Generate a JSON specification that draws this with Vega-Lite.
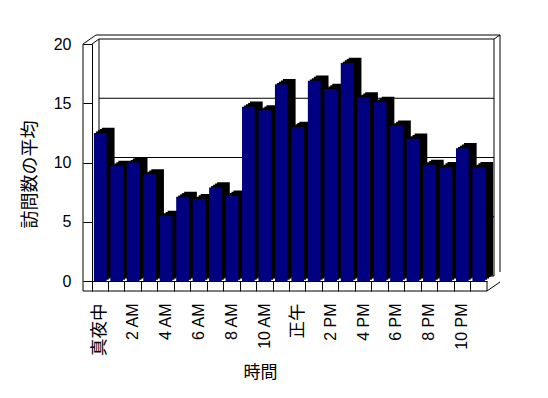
{
  "$schema": "https://vega.github.io/schema/vega-lite/v6.json",
  "width": 395,
  "height": 237,
  "autosize": {"type": "none"},
  "padding": {"left": 92, "top": 44, "right": 61, "bottom": 117},
  "background": "white",
  "config": {"view": {"stroke": null}, "font": "Liberation Sans, Noto Sans CJK JP", "rule": {"color": "black", "strokeWidth": 1}},
  "data": {"values": [
    {"hour": "真夜中", "visits": 12.5},
    {"hour": "1 AM", "visits": 9.7},
    {"hour": "2 AM", "visits": 10.0},
    {"hour": "3 AM", "visits": 9.0},
    {"hour": "4 AM", "visits": 5.5},
    {"hour": "5 AM", "visits": 7.1},
    {"hour": "6 AM", "visits": 6.9},
    {"hour": "7 AM", "visits": 7.9},
    {"hour": "8 AM", "visits": 7.2},
    {"hour": "9 AM", "visits": 14.7},
    {"hour": "10 AM", "visits": 14.4},
    {"hour": "11 AM", "visits": 16.6},
    {"hour": "正午", "visits": 13.0},
    {"hour": "1 PM", "visits": 16.9},
    {"hour": "2 PM", "visits": 16.2},
    {"hour": "3 PM", "visits": 18.4},
    {"hour": "4 PM", "visits": 15.5},
    {"hour": "5 PM", "visits": 15.1},
    {"hour": "6 PM", "visits": 13.1},
    {"hour": "7 PM", "visits": 12.0},
    {"hour": "8 PM", "visits": 9.8},
    {"hour": "9 PM", "visits": 9.6},
    {"hour": "10 PM", "visits": 11.2},
    {"hour": "11 PM", "visits": 9.6}
  ]},
  "resolve": {"axis": {"x": "independent", "y": "independent"}},
  "layer": [
    {
      "data": {"values": [{}]},
      "mark": {"type": "rect", "fill": "white", "stroke": "black", "strokeWidth": 1, "xOffset": 7, "x2Offset": 7, "yOffset": -5, "y2Offset": -5},
      "encoding": {
        "x": {"datum": "真夜中", "bandPosition": 0, "type": "nominal", "axis": null,
              "scale": {"domain": ["真夜中","1 AM","2 AM","3 AM","4 AM","5 AM","6 AM","7 AM","8 AM","9 AM","10 AM","11 AM","正午","1 PM","2 PM","3 PM","4 PM","5 PM","6 PM","7 PM","8 PM","9 PM","10 PM","11 PM"], "paddingInner": 0, "paddingOuter": 0}},
        "x2": {"datum": "11 PM", "bandPosition": 1},
        "y": {"datum": 20, "type": "quantitative", "axis": null, "scale": {"domain": [0, 20], "nice": false}},
        "y2": {"datum": 0}
      }
    },
    {
      "data": {"values": [{}]},
      "mark": {"type": "rule", "xOffset": 4, "x2Offset": 13, "yOffset": -9},
      "encoding": {
        "x": {"datum": "真夜中", "bandPosition": 0, "type": "nominal", "axis": null},
        "x2": {"datum": "11 PM", "bandPosition": 1},
        "y": {"datum": 20, "type": "quantitative", "axis": null}
      }
    },
    {
      "data": {"values": [{}]},
      "mark": {"type": "rule", "xOffset": 13, "yOffset": -9, "y2Offset": -9},
      "encoding": {
        "x": {"datum": "11 PM", "bandPosition": 1, "type": "nominal", "axis": null},
        "y": {"datum": 20, "type": "quantitative", "axis": null},
        "y2": {"datum": 0}
      }
    },
    {
      "data": {"values": [{}]},
      "mark": {"type": "rule", "xOffset": 7, "x2Offset": 13, "yOffset": -5, "y2Offset": -9},
      "encoding": {
        "x": {"datum": "11 PM", "bandPosition": 1, "type": "nominal", "axis": null},
        "x2": {"datum": "11 PM", "bandPosition": 1},
        "y": {"datum": 20, "type": "quantitative", "axis": null},
        "y2": {"datum": 20}
      }
    },
    {
      "data": {"values": [{"v": 5}, {"v": 10}, {"v": 15}]},
      "mark": {"type": "rule", "xOffset": 7, "x2Offset": 7, "yOffset": -5},
      "encoding": {
        "x": {"datum": "真夜中", "bandPosition": 0, "type": "nominal", "axis": null},
        "x2": {"datum": "11 PM", "bandPosition": 1},
        "y": {"field": "v", "type": "quantitative", "axis": null}
      }
    },
    {
      "data": {"values": [{}]},
      "mark": {"type": "rule", "xOffset": -9, "y2Offset": 10},
      "encoding": {
        "x": {"datum": "真夜中", "bandPosition": 0, "type": "nominal", "axis": null},
        "y": {"datum": 20, "type": "quantitative", "axis": null},
        "y2": {"datum": 0}
      }
    },
    {
      "data": {"values": [{}]},
      "mark": {"type": "rule", "xOffset": -9, "x2Offset": 4, "y2Offset": -9},
      "encoding": {
        "x": {"datum": "真夜中", "bandPosition": 0, "type": "nominal", "axis": null},
        "x2": {"datum": "真夜中", "bandPosition": 0},
        "y": {"datum": 20, "type": "quantitative", "axis": null},
        "y2": {"datum": 20}
      }
    },
    {
      "data": {"values": [{}]},
      "mark": {"type": "rule", "x2Offset": 7, "y2Offset": -5},
      "encoding": {
        "x": {"datum": "真夜中", "bandPosition": 0, "type": "nominal", "axis": null},
        "x2": {"datum": "真夜中", "bandPosition": 0},
        "y": {"datum": 20, "type": "quantitative", "axis": null},
        "y2": {"datum": 20}
      }
    },
    {
      "data": {"values": [{}]},
      "mark": {"type": "rule", "xOffset": -9, "yOffset": 10},
      "encoding": {
        "x": {"datum": "真夜中", "bandPosition": 0, "type": "nominal", "axis": null},
        "x2": {"datum": "11 PM", "bandPosition": 1},
        "y": {"datum": 0, "type": "quantitative", "axis": null}
      }
    },
    {
      "data": {"values": [{}]},
      "mark": {"type": "rule", "y2Offset": 10},
      "encoding": {
        "x": {"datum": "11 PM", "bandPosition": 1, "type": "nominal", "axis": null},
        "y": {"datum": 0, "type": "quantitative", "axis": null},
        "y2": {"datum": 0}
      }
    },
    {
      "data": {"values": [{}]},
      "mark": {"type": "rule", "x2Offset": 13, "yOffset": 10, "y2Offset": 1},
      "encoding": {
        "x": {"datum": "11 PM", "bandPosition": 1, "type": "nominal", "axis": null},
        "x2": {"datum": "11 PM", "bandPosition": 1},
        "y": {"datum": 0, "type": "quantitative", "axis": null},
        "y2": {"datum": 0}
      }
    },
    {
      "mark": {"type": "bar", "fill": "black", "width": {"band": 0.77}, "xOffset": 2, "yOffset": -1.3},
      "encoding": {
        "x": {"field": "hour", "type": "nominal", "axis": null},
        "y": {"field": "visits", "type": "quantitative", "axis": null}
      }
    },
    {
      "mark": {"type": "bar", "fill": "black", "width": {"band": 0.77}, "xOffset": 4, "yOffset": -2.6},
      "encoding": {
        "x": {"field": "hour", "type": "nominal", "axis": null},
        "y": {"field": "visits", "type": "quantitative", "axis": null}
      }
    },
    {
      "mark": {"type": "bar", "fill": "black", "width": {"band": 0.77}, "xOffset": 6, "yOffset": -3.9},
      "encoding": {
        "x": {"field": "hour", "type": "nominal", "axis": null},
        "y": {"field": "visits", "type": "quantitative", "axis": null}
      }
    },
    {
      "mark": {"type": "bar", "fill": "black", "width": {"band": 0.77}, "xOffset": 8, "yOffset": -5.2},
      "encoding": {
        "x": {"field": "hour", "type": "nominal", "axis": null},
        "y": {"field": "visits", "type": "quantitative", "axis": null}
      }
    },
    {
      "mark": {"type": "bar", "fill": "#000080", "width": {"band": 0.77}},
      "encoding": {
        "x": {"field": "hour", "type": "nominal",
              "axis": {"orient": "bottom", "title": "時間", "labelAngle": 270, "labelExpr": "test(/^(1|3|5|7|9|11) /, datum.value) ? '' : datum.label",
                       "labelOverlap": false, "tickSize": 10, "bandPosition": 0, "domain": true, "domainColor": "black", "tickColor": "black",
                       "labelPadding": 12, "labelFontSize": {"condition": {"test": "datum.value == '真夜中' || datum.value == '正午'", "value": 17.5}, "value": 16},
                       "labelColor": "black", "titleFontSize": 17,
                       "titleFontWeight": "normal", "titleColor": "black", "titlePadding": 9, "titleX": 168}},
        "y": {"field": "visits", "type": "quantitative",
              "axis": {"orient": "left", "title": "訪問数の平均", "values": [0, 5, 10, 15, 20], "tickSize": 9,
                       "domainColor": "black", "tickColor": "black", "labelPadding": 12, "grid": false,
                       "labelFontSize": 16, "labelColor": "black", "titleFontSize": 18, "titleFontWeight": "normal",
                       "titleColor": "black", "titlePadding": 14, "titleY": 130}}
      }
    }
  ]
}
